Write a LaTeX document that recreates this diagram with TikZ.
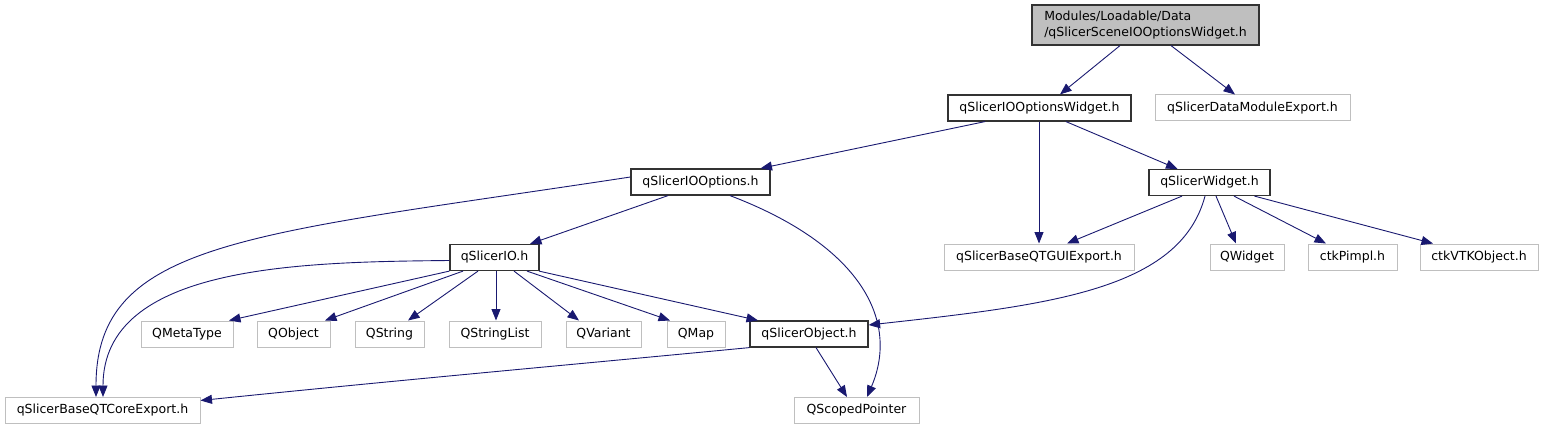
\documentclass[tikz,border=0pt]{standalone}
\usepackage{fontspec}
\setmainfont{DejaVu Sans}
\usetikzlibrary{arrows.meta,calc}
\definecolor{edgec}{HTML}{191970}
\definecolor{extc}{HTML}{BFBFBF}
\definecolor{docc}{HTML}{333333}
\begin{document}
\begin{tikzpicture}[x=1pt,y=-1pt,
  every node/.style={font=\fontsize{12.5}{16}\selectfont},
  box/.style={rectangle, minimum height=26pt, inner sep=0pt, fill=white},
  doc/.style={box, draw=docc, line width=1.2pt},
  ext/.style={box, draw=extc, line width=1pt},
  rootbox/.style={doc, fill=extc, minimum height=40pt, align=left},
  edge/.style={draw=edgec, line width=0.9pt, -{Triangle[length=11.5pt,width=9pt]}}
]
\useasboundingbox (0,0) rectangle (1543,425);

\node[rootbox, minimum width=227pt] (root) at (1145.5,25) {Modules/Loadable/Data\\/qSlicerSceneIOOptionsWidget.h};
\node[doc, minimum width=183pt] (iow) at (1039.5,108) {qSlicerIOOptionsWidget.h};
\node[ext, minimum width=195pt] (dme) at (1252.5,108) {qSlicerDataModuleExport.h};
\node[doc, minimum width=139pt] (ioo) at (700.5,182) {qSlicerIOOptions.h};
\node[doc, minimum width=121pt] (sw) at (1209.5,182.5) {qSlicerWidget.h};
\node[ext, minimum width=190pt] (gui) at (1039,257) {qSlicerBaseQTGUIExport.h};
\node[ext, minimum width=74pt] (qw) at (1247,257) {QWidget};
\node[ext, minimum width=89pt] (pimpl) at (1352.5,257) {ctkPimpl.h};
\node[ext, minimum width=118pt] (vtk) at (1479,257) {ctkVTKObject.h};
\node[doc, minimum width=89pt] (io) at (494.5,257.5) {qSlicerIO.h};
\node[ext, minimum width=92pt] (qmt) at (187,334) {QMetaType};
\node[ext, minimum width=73pt] (qobj) at (293.5,334) {QObject};
\node[ext, minimum width=69pt] (qstr) at (389.5,334) {QString};
\node[ext, minimum width=92pt] (qsl) at (495,334) {QStringList};
\node[ext, minimum width=75pt] (qvar) at (603.5,334) {QVariant};
\node[ext, minimum width=58pt] (qmap) at (696,334) {QMap};
\node[doc, minimum width=118pt] (sobj) at (809,334) {qSlicerObject.h};
\node[ext, minimum width=195pt] (core) at (102.5,410.5) {qSlicerBaseQTCoreExport.h};
\node[ext, minimum width=125pt] (qsp) at (856.5,410.5) {QScopedPointer};

% root
\draw[edge] ($(root.south)+(-25.5,0)$) -- ($(iow.north)+(20.5,0)$);
\draw[edge] ($(root.south)+(25.5,0)$) -- ($(dme.north)+(-17.5,0)$);
% iow
\draw[edge] ($(iow.south)+(-54.5,0)$) -- ($(ioo.north)+(60,0)$);
\draw[edge] ($(iow.south)+(-0.5,0)$) -- (gui.north);
\draw[edge] ($(iow.south)+(26.5,0)$) -- ($(sw.north)+(-32,0)$);
% ioo
\draw[edge] ($(ioo.west)+(0,-5)$) .. controls (250,235) and (96,240) .. ($(core.north)+(-6.5,0)$);
\draw[edge] ($(ioo.south)+(-32.5,0)$) -- ($(io.north)+(35.5,0)$);
\draw[edge] ($(ioo.south)+(29.5,0)$) .. controls (860,245) and (900,320) .. ($(qsp.north)+(10.5,0)$);
% sw
\draw[edge] ($(sw.south)+(-27.5,0)$) -- ($(gui.north)+(28,0)$);
\draw[edge] ($(sw.south)+(6.5,0)$) -- ($(qw.north)+(-11,0)$);
\draw[edge] ($(sw.south)+(24.5,0)$) -- ($(pimpl.north)+(-26.5,0)$);
\draw[edge] ($(sw.south)+(45,0)$) -- ($(vtk.north)+(-46,0)$);
\draw[edge] ($(sw.south)+(-4.5,0)$) .. controls (1180,290) and (1050,305) .. ($(sobj.east)+(0,-9)$);
% io
\draw[edge] ($(io.west)+(0,3)$) .. controls (300,262) and (103,265) .. ($(core.north)+(0.5,0)$);
\draw[edge] (io.south west) -- ($(qmt.north)+(42,0)$);
\draw[edge] ($(io.south)+(-31.5,0)$) -- ($(qobj.north)+(31.5,0)$);
\draw[edge] ($(io.south)+(-16.5,0)$) -- ($(qstr.north)+(18.5,0)$);
\draw[edge] ($(io.south)+(1.5,0)$) -- ($(qsl.north)+(1,0)$);
\draw[edge] ($(io.south)+(19.5,0)$) -- ($(qvar.north)+(-24.5,0)$);
\draw[edge] ($(io.south)+(32.5,0)$) -- ($(qmap.north)+(-26,0)$);
\draw[edge] ($(io.south)+(44.5,0)$) -- ($(sobj.north)+(-51,0)$);
% sobj
\draw[edge] (sobj.south west) .. controls (600,362) and (400,380) .. ($(core.east)+(0,-10)$);
\draw[edge] ($(sobj.south)+(7,0)$) -- ($(qsp.north)+(-9.5,0)$);
\end{tikzpicture}
\end{document}
